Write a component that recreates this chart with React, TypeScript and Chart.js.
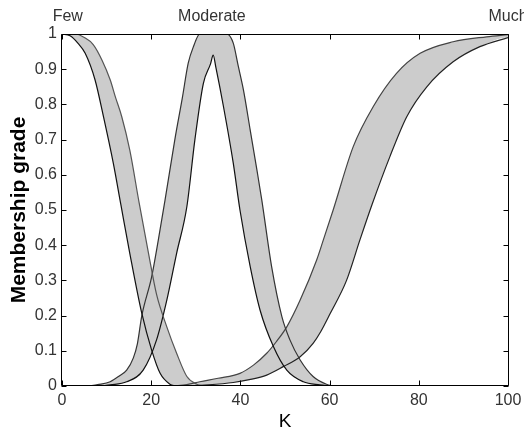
import React, { useEffect, useRef } from "react";
import { Chart, registerables } from "chart.js";

Chart.register(...registerables);

// ---- Data (K, membership grade) ----
const fewUpperK = [0, 3, 5, 7, 9, 10.8, 12, 13.4, 15.2, 17.3, 19.4, 21.2, 23.5, 25.7, 28, 30.2, 32];
const fewUpperMu = [1, 1, 0.99, 0.97, 0.925, 0.87, 0.82, 0.765, 0.67, 0.52, 0.377, 0.26, 0.168, 0.093, 0.027, 0.005, 0];
const fewLowerK = [0, 1.8, 3.5, 5.2, 7.4, 9.3, 11.5, 13.2, 15.2, 17.9, 20.1, 22, 24.2, 25.5];
const fewLowerMu = [1, 0.995, 0.975, 0.945, 0.87, 0.765, 0.633, 0.515, 0.377, 0.206, 0.102, 0.036, 0.005, 0];

const modUpperK = [6, 8, 10.8, 13, 14.5, 16, 16.9, 17.9, 20.1, 21.6, 23.1, 25.3, 27, 28.3, 29.5, 30.9, 36.9, 38.4, 39.5, 40.7, 42.2, 43.7, 44.8, 47, 49.3, 51.1, 53.4, 56.3, 59.3, 61];
const modUpperMu = [0, 0.004, 0.012, 0.03, 0.045, 0.08, 0.12, 0.2, 0.31, 0.415, 0.528, 0.7, 0.82, 0.917, 0.965, 1, 1, 0.974, 0.91, 0.84, 0.727, 0.614, 0.528, 0.339, 0.197, 0.131, 0.074, 0.027, 0.005, 0];
const modLowerK = [9, 10.8, 14.5, 18.2, 21.2, 23.5, 25.7, 28, 29.8, 31.7, 33.3, 33.9, 34.5, 36.2, 38.4, 39.9, 42.2, 44.4, 47.4, 50.4, 54.1, 57.8, 60];
const modLowerMu = [0, 0.003, 0.012, 0.045, 0.131, 0.244, 0.377, 0.51, 0.7, 0.86, 0.915, 0.94, 0.905, 0.794, 0.633, 0.5, 0.339, 0.216, 0.112, 0.045, 0.012, 0.003, 0];

const muchUpperK = [25, 28, 30.9, 35, 39.9, 43, 45.9, 48, 50.4, 53.4, 57.1, 58.6, 60.8, 65.3, 69.8, 75, 80.3, 87.7, 95.2, 100];
const muchUpperMu = [0, 0.004, 0.012, 0.022, 0.036, 0.06, 0.093, 0.125, 0.168, 0.244, 0.358, 0.415, 0.5, 0.68, 0.794, 0.888, 0.945, 0.978, 0.992, 0.998];
const muchLowerK = [30, 38.4, 42, 45.9, 49.6, 53.4, 56.3, 58, 60.1, 63.8, 66.8, 69.5, 73.5, 77.3, 81.8, 87.7, 93.7, 100];
const muchLowerMu = [0, 0.01, 0.018, 0.031, 0.055, 0.083, 0.121, 0.154, 0.205, 0.3, 0.415, 0.515, 0.651, 0.765, 0.85, 0.921, 0.964, 0.99];

const xTickValues = [0, 20, 40, 60, 80, 100];
const yTickLabels = ["0", "0.1", "0.2", "0.3", "0.4", "0.5", "0.6", "0.7", "0.8", "0.9", "1"];
const termLabels = ["Few", "Moderate", "Much"];
const termLabelK = [1.3, 33.6, 100];
const xTitle = "K";
const yTitle = "Membership grade";

const FONT = '"Liberation Sans", Arial, sans-serif';
const FILL = "#cccccc";

function pts(xs: number[], ys: number[]) {
  return xs.map((x, i) => ({ x, y: ys[i] }));
}
function band(ux: number[], uy: number[], lx: number[], ly: number[]) {
  return [...pts(ux, uy), ...pts(lx, ly).reverse()];
}

const decorPlugin = {
  id: "decor",
  afterDraw(chart: any) {
    const { ctx, chartArea: a, scales } = chart;
    const x = scales.x;
    const y = scales.y;
    const L = Math.round(a.left) - 0.5;
    const R = Math.round(a.right) + 0.5;
    const T = Math.round(a.top) + 0.5;
    const B = Math.round(a.bottom) - 0.5;
    ctx.save();
    ctx.strokeStyle = "#000";
    ctx.lineWidth = 1;
    ctx.beginPath();
    ctx.rect(L, T, R - L, B - T);
    const tl = 5;
    xTickValues.forEach((v) => {
      const px = Math.round(x.getPixelForValue(v)) + 0.5;
      ctx.moveTo(px, B);
      ctx.lineTo(px, B - tl);
      ctx.moveTo(px, T);
      ctx.lineTo(px, T + tl);
    });
    yTickLabels.forEach((_, i) => {
      const py = Math.round(y.getPixelForValue(i / 10)) + 0.5;
      ctx.moveTo(L, py);
      ctx.lineTo(L + tl, py);
      ctx.moveTo(R, py);
      ctx.lineTo(R - tl, py);
    });
    ctx.stroke();

    ctx.fillStyle = "#333";
    ctx.font = `16px ${FONT}`;
    ctx.textAlign = "center";
    ctx.textBaseline = "alphabetic";
    termLabels.forEach((t, i) => {
      ctx.fillText(t, x.getPixelForValue(termLabelK[i]), 21);
    });

    ctx.fillStyle = "#000";
    ctx.font = `19px ${FONT}`;
    ctx.fillText(xTitle, (a.left + a.right) / 2, 427);

    ctx.save();
    ctx.translate(25, (a.top + a.bottom) / 2);
    ctx.rotate(-Math.PI / 2);
    ctx.font = `bold 21px ${FONT}`;
    ctx.fillText(yTitle, 0, 0);
    ctx.restore();
    ctx.restore();
  },
};

export default function App() {
  const ref = useRef<HTMLCanvasElement | null>(null);
  useEffect(() => {
    if (!ref.current) return;
    const lineDs = (data: any[], color: string) => ({
      data,
      showLine: true,
      fill: false,
      borderColor: color,
      borderWidth: 1.2,
      pointRadius: 0,
      cubicInterpolationMode: "monotone",
      order: 1,
    });
    const fillDs = (data: any[]) => ({
      data,
      showLine: true,
      fill: "shape",
      backgroundColor: FILL,
      borderColor: "rgba(0,0,0,0)",
      borderWidth: 0,
      pointRadius: 0,
      cubicInterpolationMode: "monotone",
      order: 2,
    });
    const chart = new Chart(ref.current, {
      type: "scatter",
      data: {
        datasets: [
          lineDs(pts(fewUpperK, fewUpperMu), "#555"),
          lineDs(pts(fewLowerK, fewLowerMu), "#111"),
          lineDs(pts(modUpperK, modUpperMu), "#333"),
          lineDs(pts(modLowerK, modLowerMu), "#111"),
          lineDs(pts(muchUpperK, muchUpperMu), "#444"),
          lineDs(pts(muchLowerK, muchLowerMu), "#222"),
          fillDs(band(fewUpperK, fewUpperMu, fewLowerK, fewLowerMu)),
          fillDs(band(modUpperK, modUpperMu, modLowerK, modLowerMu)),
          fillDs(band(muchUpperK, muchUpperMu, muchLowerK, muchLowerMu)),
        ] as any,
      },
      options: {
        animation: false,
        responsive: false,
        maintainAspectRatio: false,
        layout: { padding: { left: 0, top: 34, right: 16, bottom: 0 } },
        plugins: { legend: { display: false }, tooltip: { enabled: false } },
        scales: {
          x: {
            type: "linear",
            min: 0,
            max: 100,
            grid: { display: false, drawTicks: false },
            border: { display: false },
            ticks: {
              stepSize: 20,
              padding: 5,
              color: "#333",
              font: { family: FONT, size: 16 },
              maxRotation: 0,
              callback: (v: any) => String(v),
            },
            afterFit: (s: any) => {
              s.height = 44;
              s.paddingLeft = 0;
              s.paddingRight = 0;
            },
          },
          y: {
            type: "linear",
            min: 0,
            max: 1,
            grid: { display: false, drawTicks: false },
            border: { display: false },
            ticks: {
              stepSize: 0.1,
              padding: 5,
              color: "#333",
              font: { family: FONT, size: 16 },
              callback: (v: any) => yTickLabels[Math.round(Number(v) * 10)],
            },
            afterFit: (s: any) => {
              s.width = 62;
              s.paddingTop = 0;
              s.paddingBottom = 0;
            },
          },
        },
      } as any,
      plugins: [decorPlugin],
    });
    return () => chart.destroy();
  }, []);
  return (
    <div style={{ position: "fixed", left: 0, top: 0, width: 524, height: 430, background: "#fff" }}>
      <canvas ref={ref} width={524} height={430} style={{ display: "block" }} />
    </div>
  );
}
